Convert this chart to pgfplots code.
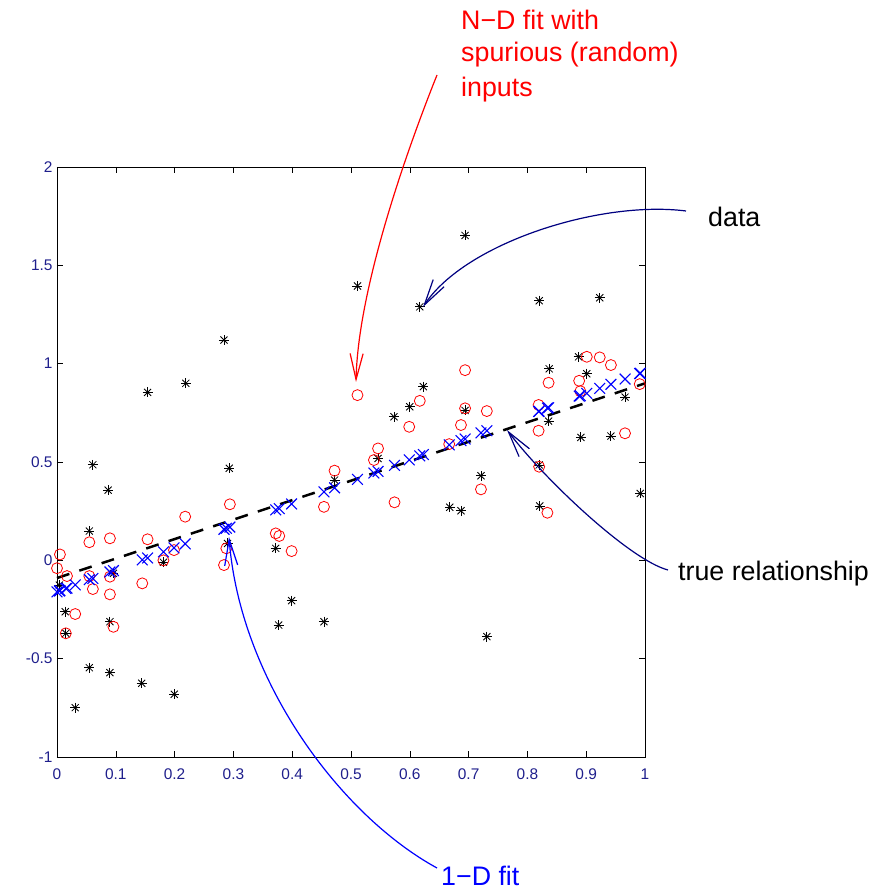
\documentclass[border=0pt]{standalone}
\usepackage{fontspec}
\setmainfont{Liberation Sans}
\usepackage{pgfplots}
\usepackage{pgfplotstable}
\pgfplotsset{compat=1.18}
\usetikzlibrary{arrows.meta}

\definecolor{tickblue}{rgb}{0.12,0.12,0.55}
\definecolor{navy}{rgb}{0,0,0.5}
\newcommand\annfont{\fontsize{26.9}{32}\selectfont}
\newcommand\tickfont{\fontsize{15.5}{18}\selectfont}

% observed data
\pgfplotstableread{
x y
0.284 1.120
0.154 0.854
0.219 0.900
0.061 0.486
0.293 0.468
0.087 0.357
0.511 1.395
0.617 1.289
0.694 1.652
0.820 1.320
0.923 1.335
0.887 1.035
0.837 0.974
0.901 0.949
0.966 0.830
0.694 0.762
0.836 0.708
0.891 0.625
0.942 0.632
0.820 0.485
0.721 0.430
0.992 0.340
0.668 0.270
0.687 0.252
0.821 0.276
0.731 -0.388
0.623 0.883
0.600 0.781
0.573 0.730
0.546 0.518
0.472 0.408
0.290 0.086
0.372 0.061
0.399 -0.205
0.377 -0.329
0.454 -0.312
0.055 0.149
0.181 -0.010
0.096 -0.066
0.004 -0.126
0.014 -0.261
0.015 -0.371
0.090 -0.312
0.055 -0.546
0.090 -0.571
0.144 -0.625
0.1995 -0.681
0.031 -0.749
}\datatable

% N-D fit with spurious inputs
\pgfplotstableread{
x y
0.294 0.285
0.218 0.222
0.005 0.030
0.055 0.092
0.090 0.112
0.154 0.107
0.000 -0.040
0.017 -0.080
0.055 -0.080
0.061 -0.146
0.090 -0.083
0.090 -0.173
0.145 -0.117
0.199 0.052
0.181 0.000
0.031 -0.273
0.015 -0.371
0.096 -0.338
0.284 -0.024
0.288 0.061
0.511 0.840
0.617 0.811
0.599 0.679
0.546 0.569
0.539 0.510
0.472 0.456
0.574 0.295
0.454 0.272
0.372 0.137
0.378 0.124
0.399 0.047
0.667 0.591
0.694 0.967
0.901 1.035
0.923 1.032
0.942 0.993
0.836 0.903
0.888 0.913
0.890 0.860
0.991 0.896
0.694 0.773
0.731 0.759
0.687 0.688
0.819 0.790
0.819 0.659
0.966 0.646
0.820 0.476
0.721 0.361
0.834 0.242
}\ndtable

% 1-D fit
\pgfplotstableread{
x y
0.294 0.169
0.218 0.084
0.005 -0.154
0.055 -0.098
0.090 -0.059
0.154 0.012
0.000 -0.160
0.017 -0.141
0.061 -0.092
0.145 0.002
0.199 0.063
0.181 0.043
0.031 -0.125
0.015 -0.143
0.096 -0.052
0.284 0.158
0.288 0.163
0.511 0.412
0.617 0.531
0.599 0.511
0.546 0.452
0.539 0.444
0.472 0.369
0.574 0.483
0.454 0.348
0.372 0.257
0.378 0.263
0.399 0.287
0.667 0.587
0.694 0.617
0.901 0.849
0.923 0.874
0.942 0.895
0.836 0.776
0.888 0.835
0.890 0.837
0.991 0.950
0.731 0.659
0.687 0.609
0.819 0.757
0.966 0.922
0.820 0.758
0.721 0.648
0.834 0.774
0.004 -0.156
0.623 0.538
0.992 0.951
}\onedtable

\begin{document}
\begin{tikzpicture}
\begin{axis}[
  at={(0,0)}, anchor=south west,
  scale only axis, width=588bp, height=590bp,
  xmin=0, xmax=1, ymin=-1, ymax=2,
  xtick={0,0.1,0.2,0.3,0.4,0.5,0.6,0.7,0.8,0.9,1},
  ytick={-1,-0.5,0,0.5,1,1.5,2},
  tick align=inside, major tick length=6bp,
  tick style={black, line width=0.6bp},
  axis line style={black, line width=0.8bp},
  xticklabel={\tickfont\pgfmathprintnumber[assume math mode=true]{\tick}},
  yticklabel={\tickfont\pgfmathprintnumber[assume math mode=true]{\tick}},
  tick label style={text=tickblue, font=\tickfont},
  xticklabel style={yshift=-8bp},
  yticklabel style={xshift=-1bp},
  clip=false,
]
% data: eight-spoke asterisks
\addplot[only marks, mark=+, mark size=5bp, black, mark options={line width=0.85bp}] table {\datatable};
\addplot[only marks, mark=x, mark size=5bp, black, mark options={line width=0.85bp}] table {\datatable};
% true relationship
\addplot[black, line width=2.5bp, dash pattern=on 13bp off 10.5bp] coordinates {(0,-0.09) (1,0.9)};
% N-D fit
\addplot[only marks, mark=o, mark size=5.5bp, red, mark options={line width=0.8bp}] table {\ndtable};
% 1-D fit
\addplot[only marks, mark=x, mark size=7.6bp, blue, mark options={line width=1.1bp}] table {\onedtable};
\end{axis}

\begin{scope}[x=1bp, y=-1bp, xshift=-57bp, yshift=757bp]
  \draw[red, line width=1.2bp, -{Straight Barb[length=26bp, width=13bp]}]
    (437,75) .. controls (405,155) and (358,290) .. (356,382);
  \draw[navy, line width=1.2bp, -{Straight Barb[length=26bp, width=13bp]}]
    (686,211) .. controls (600,200) and (465,243) .. (423,307);
  \draw[navy, line width=1.2bp, -{Straight Barb[length=26bp, width=13bp]}]
    (668,570) .. controls (630,560) and (545,480) .. (507,430);
  \draw[blue, line width=1.2bp, -{Straight Barb[length=26bp, width=13bp]}]
    (437,868) .. controls (340,815) and (240,680) .. (229,537);

  \node[anchor=base west, inner sep=0, text=red, font=\annfont] at (461,30) {N−D fit with};
  \node[anchor=base west, inner sep=0, text=red, font=\annfont] at (461,62) {spurious (random)};
  \node[anchor=base west, inner sep=0, text=red, font=\annfont] at (461,97) {inputs};
  \node[anchor=base west, inner sep=0, text=black, font=\annfont] at (708,227) {data};
  \node[anchor=base west, inner sep=0, text=black, font=\annfont] at (678,581) {true relationship};
  \node[anchor=base west, inner sep=0, text=blue, font=\annfont] at (441,885) {1−D fit};

  \pgfresetboundingbox
  \path (0,0) rectangle (890,891);
\end{scope}
\end{tikzpicture}
\end{document}
